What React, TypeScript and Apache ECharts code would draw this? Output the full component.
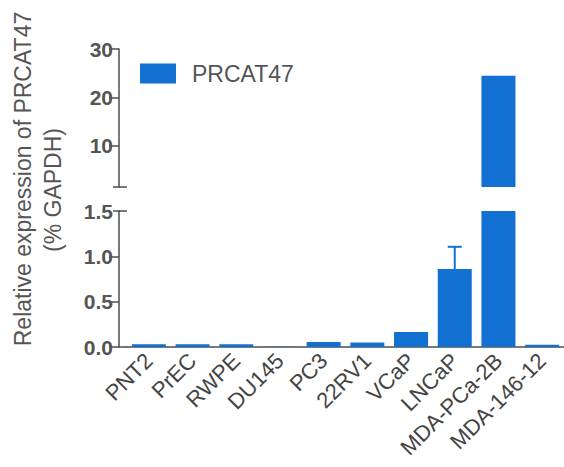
import React, { useEffect, useRef } from "react";
import * as echarts from "echarts";

const categories = ["PNT2", "PrEC", "RWPE", "DU145", "PC3", "22RV1", "VCaP", "LNCaP", "MDA-PCa-2B", "MDA-146-12"];
const values = [0.03, 0.03, 0.03, 0.004, 0.055, 0.05, 0.165, 0.86, 24.5, 0.025];
const errors = [0, 0, 0, 0, 0, 0, 0, 0.245, 0, 0];
const upperTicks = [10, 20, 30];
const lowerTickLabels = [0, 0.5, 1.0, 1.5];
const lowerTickMarks = [0, 0.5, 1.0];
const UPPER_MIN = 1.5;
const UPPER_MAX = 30;
const LOWER_MAX = 1.5;

const BLUE = "#1170d2";
const AXIS = "#4d4d4d";
const TEXT = "#555555";
const FONT = "'Liberation Sans', Arial, sans-serif";

const GRID_LEFT = 127;
const AXIS_X = 119;
const UP_TOP = 49;
const UP_H = 138;
const LO_TOP = 211;
const LO_H = 136;

export default function App() {
  const ref = useRef<HTMLDivElement>(null);
  useEffect(() => {
    if (!ref.current) return;
    document.body.style.margin = "0";
    const chart = echarts.init(ref.current, null, { renderer: "svg" });
    const upperData = values.map((v) => (v > UPPER_MIN ? v : "-"));
    const lowerData = values.map((v) => v);
    const errData = categories.map((c, i) => [i, values[i], errors[i]]);
    const yLabel = {
      color: TEXT,
      fontWeight: "bold" as const,
      fontSize: 21,
      fontFamily: FONT,
      margin: 6,
    };
    chart.setOption({
      animation: false,
      backgroundColor: "#fff",
      legend: {
        data: [{ name: "PRCAT47", icon: "rect" }],
        left: 140,
        top: 62,
        padding: 0,
        itemWidth: 36,
        itemHeight: 20,
        textStyle: { fontSize: 23, color: TEXT, fontFamily: FONT, padding: [0, 0, 0, 11] },
      },
      grid: [
        { left: GRID_LEFT, right: 0, top: UP_TOP, height: UP_H },
        { left: GRID_LEFT, right: 0, top: LO_TOP, height: LO_H },
      ],
      xAxis: [
        { type: "category", gridIndex: 0, data: categories, show: false },
        {
          type: "category",
          gridIndex: 1,
          data: categories,
          axisLine: { lineStyle: { color: AXIS, width: 1.5 } },
          axisTick: { alignWithLabel: true, length: 9, lineStyle: { color: AXIS, width: 1.5 } },
          axisLabel: { rotate: 45, fontSize: 22, color: "#444", fontFamily: FONT, margin: 10, interval: 0 },
        },
      ],
      yAxis: [
        {
          type: "value",
          gridIndex: 0,
          min: UPPER_MIN,
          max: UPPER_MAX,
          offset: GRID_LEFT - AXIS_X,
          splitLine: { show: false },
          axisLine: { show: true, lineStyle: { color: AXIS, width: 1.5 } },
          axisTick: { show: true, length: 10, customValues: upperTicks, lineStyle: { color: AXIS, width: 1.5 } },
          axisLabel: { ...yLabel, customValues: upperTicks },
        },
        {
          type: "value",
          gridIndex: 1,
          min: 0,
          max: LOWER_MAX,
          interval: 0.5,
          offset: GRID_LEFT - AXIS_X,
          splitLine: { show: false },
          axisLine: { show: true, lineStyle: { color: AXIS, width: 1.5 } },
          axisTick: { show: true, length: 10, customValues: lowerTickMarks, lineStyle: { color: AXIS, width: 1.5 } },
          axisLabel: {
            ...yLabel,
            customValues: lowerTickLabels,
            formatter: (v: number) => v.toFixed(1),
          },
        },
      ],
      series: [
        {
          name: "PRCAT47",
          type: "bar",
          xAxisIndex: 0,
          yAxisIndex: 0,
          data: upperData,
          barWidth: 34,
          itemStyle: { color: BLUE },
          clip: true,
        },
        {
          name: "PRCAT47",
          type: "bar",
          xAxisIndex: 1,
          yAxisIndex: 1,
          data: lowerData,
          barWidth: 34,
          itemStyle: { color: BLUE },
          clip: true,
        },
        {
          name: "err",
          type: "custom",
          xAxisIndex: 1,
          yAxisIndex: 1,
          data: errData,
          encode: { x: 0, y: 1 },
          z: 3,
          renderItem: (params: any, api: any) => {
            const i = api.value(0);
            const v = api.value(1);
            const e = api.value(2);
            if (!e) return null;
            const p0 = api.coord([i, v]);
            const p1 = api.coord([i, v + e]);
            const st = { stroke: BLUE, lineWidth: 2 };
            return {
              type: "group",
              children: [
                { type: "line", shape: { x1: p0[0], y1: p0[1], x2: p1[0], y2: p1[1] }, style: st },
                { type: "line", shape: { x1: p1[0] - 7, y1: p1[1], x2: p1[0] + 7, y2: p1[1] }, style: st },
              ],
            };
          },
        },
      ],
      graphic: [
        {
          type: "text",
          x: 23,
          y: 179,
          rotation: Math.PI / 2,
          style: {
            text: "Relative expression of PRCAT47",
            fontSize: 23,
            fontFamily: FONT,
            fill: TEXT,
            align: "center",
            verticalAlign: "middle",
          },
        },
        {
          type: "text",
          x: 53,
          y: 190,
          rotation: Math.PI / 2,
          style: {
            text: "(% GAPDH)",
            fontSize: 23,
            fontFamily: FONT,
            fill: TEXT,
            align: "center",
            verticalAlign: "middle",
          },
        },
        {
          type: "line",
          shape: { x1: AXIS_X - 6, y1: UP_TOP + UP_H, x2: AXIS_X + 8, y2: UP_TOP + UP_H },
          style: { stroke: AXIS, lineWidth: 1.5 },
        },
        {
          type: "line",
          shape: { x1: AXIS_X - 6, y1: LO_TOP, x2: AXIS_X + 8, y2: LO_TOP },
          style: { stroke: AXIS, lineWidth: 1.5 },
        },
        {
          type: "line",
          shape: { x1: AXIS_X, y1: LO_TOP + LO_H, x2: GRID_LEFT, y2: LO_TOP + LO_H },
          style: { stroke: AXIS, lineWidth: 1.5 },
        },
      ],
    });
    return () => chart.dispose();
  }, []);
  return <div ref={ref} style={{ width: 564, height: 467 }} />;
}
